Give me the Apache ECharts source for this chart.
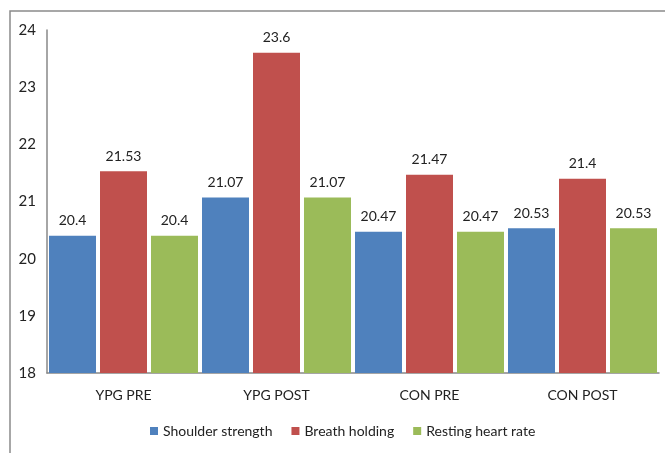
<!DOCTYPE html>
<html><head><meta charset="utf-8">
<script src="https://cdn.jsdelivr.net/npm/echarts@6/dist/echarts.min.js"></script>
<style>html,body{margin:0;padding:0;background:#fff}#c{width:665px;height:453px}</style>
</head><body><div id="c"></div>
<script>
var categories = ['YPG PRE', 'YPG POST', 'CON PRE', 'CON POST'];
var shoulder = [20.4, 21.07, 20.47, 20.53];
var breath = [21.53, 23.6, 21.47, 21.4];
var resting = [20.4, 21.07, 20.47, 20.53];
var seriesNames = ['Shoulder strength', 'Breath holding', 'Resting heart rate'];
var colors = ['#4F81BD', '#C0504D', '#9BBB59'];
var FONT = 'Lato, "Noto Sans", sans-serif';
var chart = echarts.init(document.getElementById('c'));
function mk(name, data, color) {
  return {
    name: name, type: 'bar', data: data, barWidth: 47, barGap: '8.5%',
    itemStyle: { color: color },
    label: { show: true, position: 'top', distance: 8, color: '#222', fontSize: 14, fontFamily: FONT }
  };
}
chart.setOption({
  animation: false,
  textStyle: { fontFamily: FONT },
  graphic: [{ type: 'rect', shape: { x: 10, y: 11, width: 700, height: 500 }, style: { fill: 'none', stroke: '#8a8a8a', lineWidth: 1.5 } }],
  grid: { left: 47, top: 30, right: 6, bottom: 80 },
  legend: {
    bottom: 10, left: 145, itemWidth: 8, itemHeight: 8, itemGap: 19,
    icon: 'rect',
    textStyle: { fontSize: 14, color: '#222', fontFamily: FONT },
    data: seriesNames
  },
  xAxis: {
    type: 'category', data: categories,
    axisLine: { lineStyle: { color: '#888', width: 1.5 } },
    axisTick: { show: false },
    axisLabel: { color: '#222', fontSize: 14, margin: 15, fontFamily: FONT }
  },
  yAxis: {
    type: 'value', min: 18, max: 24, interval: 1,
    axisLine: { show: true, lineStyle: { color: '#888', width: 1.5 } },
    axisTick: { show: false },
    splitLine: { show: false },
    axisLabel: { color: '#222', fontSize: 15, margin: 11, fontFamily: FONT }
  },
  series: [mk(seriesNames[0], shoulder, colors[0]), mk(seriesNames[1], breath, colors[1]), mk(seriesNames[2], resting, colors[2])]
});
</script></body></html>
